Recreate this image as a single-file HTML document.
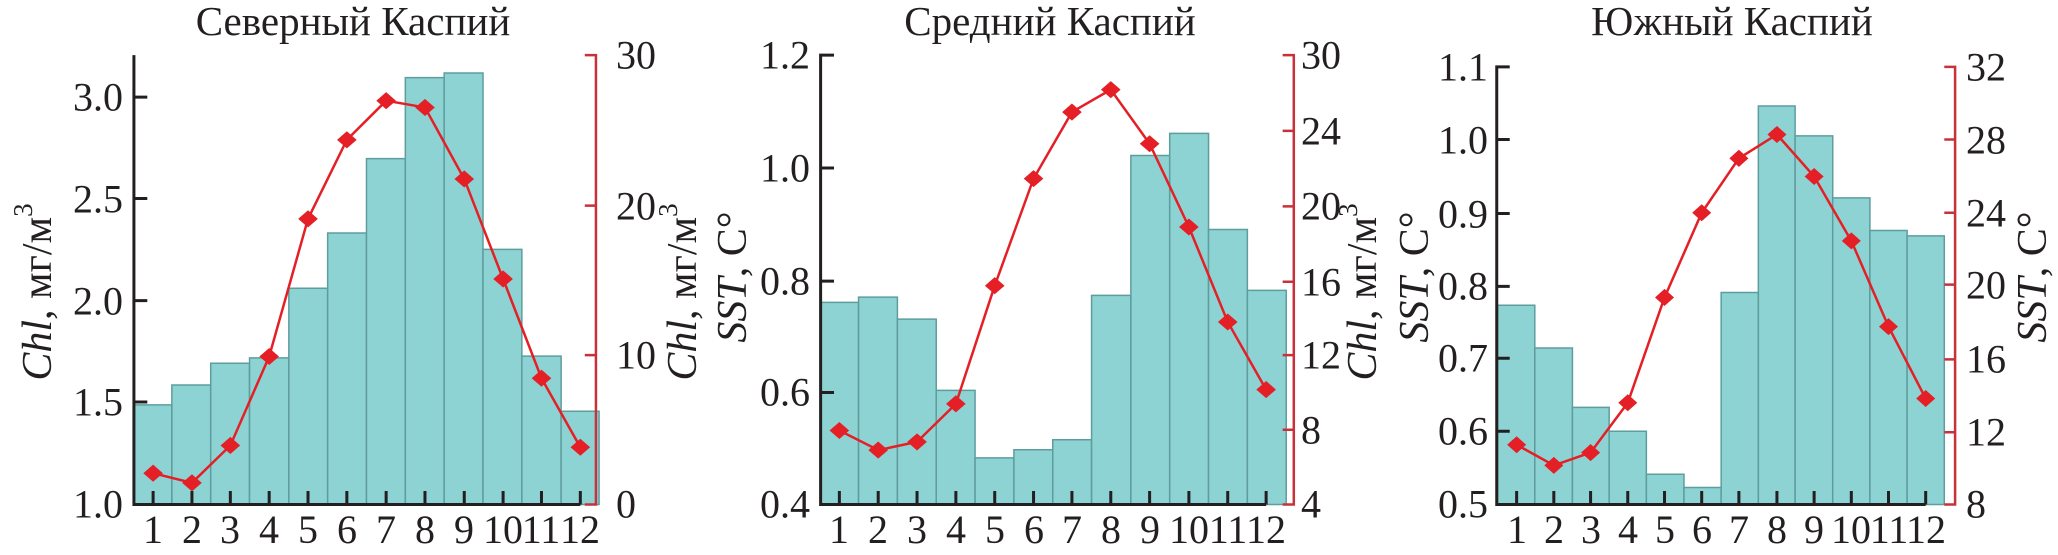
<!DOCTYPE html>
<html><head><meta charset="utf-8"><style>
html,body{margin:0;padding:0;background:#fff}
svg{display:block}
text{font-family:"Liberation Serif",serif;fill:#231f20}
</style></head><body>
<svg width="2058" height="555" viewBox="0 0 2058 555" xmlns="http://www.w3.org/2000/svg">
<defs>
<style>
.bar{fill:#8dd3d3;stroke:#5f9d9d;stroke-width:1.5}
.ax{stroke:#231f20;stroke-width:3;fill:none}
.rax{stroke:#c8313a;stroke-width:2.5;fill:none}
.ln{stroke:#e41f26;stroke-width:2.5;fill:none}
.mk{fill:#e41f26}
.t{font-size:40px}
.ttl{font-size:41px}
.lab{font-size:42px}
</style>
</defs>

<!-- Panel 1 -->
<g transform="translate(0,0) scale(0.4464,0.3558)">
<g class="bar">
<rect x="300" y="1138" width="85" height="280" vector-effect="non-scaling-stroke"/>
<rect x="385" y="1082" width="87" height="336" vector-effect="non-scaling-stroke"/>
<rect x="472" y="1021" width="87" height="397" vector-effect="non-scaling-stroke"/>
<rect x="559" y="1006" width="88" height="412" vector-effect="non-scaling-stroke"/>
<rect x="647" y="810" width="87" height="608" vector-effect="non-scaling-stroke"/>
<rect x="734" y="655" width="87" height="763" vector-effect="non-scaling-stroke"/>
<rect x="821" y="446" width="87" height="972" vector-effect="non-scaling-stroke"/>
<rect x="908" y="218" width="87" height="1200" vector-effect="non-scaling-stroke"/>
<rect x="995" y="205" width="87" height="1213" vector-effect="non-scaling-stroke"/>
<rect x="1082" y="701" width="87" height="717" vector-effect="non-scaling-stroke"/>
<rect x="1169" y="1001" width="88" height="417" vector-effect="non-scaling-stroke"/>
<rect x="1257" y="1156" width="85" height="262" vector-effect="non-scaling-stroke"/>
</g>
<path class="ax" vector-effect="non-scaling-stroke" d="M300 155V1418H1300M300 273H330M300 558H330M300 845H330M300 1130H330M343 1418V1380M430 1418V1380M516 1418V1380M603 1418V1380M690 1418V1380M777 1418V1380M865 1418V1380M952 1418V1380M1040 1418V1380M1127 1418V1380M1213 1418V1380M1300 1418V1380"/>
<path class="rax" vector-effect="non-scaling-stroke" d="M1310 155H1335V1418H1310M1335 578H1310M1335 998H1310"/>
<polyline class="ln" vector-effect="non-scaling-stroke" points="343,1330 430,1357 516,1252 603,1002 690,615 777,393 865,283 952,302 1040,503 1127,784 1213,1063 1300,1257"/>
<g class="mk">
<path d="M343 1306l22 24-22 24-22-24z"/><path d="M430 1333l22 24-22 24-22-24z"/><path d="M516 1228l22 24-22 24-22-24z"/><path d="M603 978l22 24-22 24-22-24z"/><path d="M690 591l22 24-22 24-22-24z"/><path d="M777 369l22 24-22 24-22-24z"/><path d="M865 259l22 24-22 24-22-24z"/><path d="M952 278l22 24-22 24-22-24z"/><path d="M1040 479l22 24-22 24-22-24z"/><path d="M1127 760l22 24-22 24-22-24z"/><path d="M1213 1039l22 24-22 24-22-24z"/><path d="M1300 1233l22 24-22 24-22-24z"/>
</g>
</g>

<!-- Panel 2 -->
<g transform="translate(680,0) scale(0.4464,0.3558)">
<g class="bar">
<rect x="315" y="850" width="85" height="568" vector-effect="non-scaling-stroke"/>
<rect x="400" y="835" width="87" height="583" vector-effect="non-scaling-stroke"/>
<rect x="487" y="897" width="87" height="521" vector-effect="non-scaling-stroke"/>
<rect x="574" y="1097" width="87" height="321" vector-effect="non-scaling-stroke"/>
<rect x="661" y="1287" width="87" height="131" vector-effect="non-scaling-stroke"/>
<rect x="748" y="1264" width="87" height="154" vector-effect="non-scaling-stroke"/>
<rect x="835" y="1236" width="87" height="182" vector-effect="non-scaling-stroke"/>
<rect x="922" y="830" width="88" height="588" vector-effect="non-scaling-stroke"/>
<rect x="1010" y="437" width="87" height="981" vector-effect="non-scaling-stroke"/>
<rect x="1097" y="375" width="87" height="1043" vector-effect="non-scaling-stroke"/>
<rect x="1184" y="645" width="87" height="773" vector-effect="non-scaling-stroke"/>
<rect x="1271" y="816" width="87" height="602" vector-effect="non-scaling-stroke"/>
</g>
<path class="ax" vector-effect="non-scaling-stroke" d="M345 155H315V1418H1313M315 472H345M315 790H345M315 1103H345M357 1418V1380M444 1418V1380M531 1418V1380M618 1418V1380M705 1418V1380M792 1418V1380M878 1418V1380M965 1418V1380M1052 1418V1380M1140 1418V1380M1227 1418V1380M1313 1418V1380"/>
<path class="rax" vector-effect="non-scaling-stroke" d="M1350 155H1375V1418H1350M1375 368H1350M1375 580H1350M1375 792H1350M1375 998H1350M1375 1208H1350"/>
<polyline class="ln" vector-effect="non-scaling-stroke" points="357,1210 444,1265 531,1242 618,1135 705,803 792,502 878,315 965,252 1052,404 1140,638 1227,905 1313,1095"/>
<g class="mk">
<path d="M357 1186l22 24-22 24-22-24z"/><path d="M444 1241l22 24-22 24-22-24z"/><path d="M531 1218l22 24-22 24-22-24z"/><path d="M618 1111l22 24-22 24-22-24z"/><path d="M705 779l22 24-22 24-22-24z"/><path d="M792 478l22 24-22 24-22-24z"/><path d="M878 291l22 24-22 24-22-24z"/><path d="M965 228l22 24-22 24-22-24z"/><path d="M1052 380l22 24-22 24-22-24z"/><path d="M1140 614l22 24-22 24-22-24z"/><path d="M1227 881l22 24-22 24-22-24z"/><path d="M1313 1071l22 24-22 24-22-24z"/>
</g>
</g>

<!-- Panel 3 -->
<g transform="translate(1380,0) scale(0.4324,0.3558)">
<g class="bar">
<rect x="272" y="858" width="86" height="560" vector-effect="non-scaling-stroke"/>
<rect x="358" y="978" width="87" height="440" vector-effect="non-scaling-stroke"/>
<rect x="445" y="1145" width="85" height="273" vector-effect="non-scaling-stroke"/>
<rect x="530" y="1212" width="86" height="206" vector-effect="non-scaling-stroke"/>
<rect x="616" y="1333" width="87" height="85" vector-effect="non-scaling-stroke"/>
<rect x="703" y="1370" width="86" height="48" vector-effect="non-scaling-stroke"/>
<rect x="789" y="822" width="86" height="596" vector-effect="non-scaling-stroke"/>
<rect x="875" y="298" width="85" height="1120" vector-effect="non-scaling-stroke"/>
<rect x="960" y="382" width="87" height="1036" vector-effect="non-scaling-stroke"/>
<rect x="1047" y="556" width="86" height="862" vector-effect="non-scaling-stroke"/>
<rect x="1133" y="648" width="86" height="770" vector-effect="non-scaling-stroke"/>
<rect x="1219" y="663" width="86" height="755" vector-effect="non-scaling-stroke"/>
</g>
<path class="ax" vector-effect="non-scaling-stroke" d="M300 188H270V1418H1262M270 392H300M270 600H300M270 805H300M270 1007H300M270 1212H300M316 1418V1380M402 1418V1380M487 1418V1380M573 1418V1380M658 1418V1380M744 1418V1380M830 1418V1380M918 1418V1380M1004 1418V1380M1090 1418V1380M1176 1418V1380M1262 1418V1380"/>
<path class="rax" vector-effect="non-scaling-stroke" d="M1305 188H1330V1418H1305M1330 392H1305M1330 598H1305M1330 800H1305M1330 1010H1305M1330 1215H1305"/>
<polyline class="ln" vector-effect="non-scaling-stroke" points="316,1250 402,1308 487,1272 573,1132 658,836 744,598 830,445 918,378 1004,496 1090,677 1176,918 1262,1120"/>
<g class="mk">
<path d="M316 1226l22 24-22 24-22-24z"/><path d="M402 1284l22 24-22 24-22-24z"/><path d="M487 1248l22 24-22 24-22-24z"/><path d="M573 1108l22 24-22 24-22-24z"/><path d="M658 812l22 24-22 24-22-24z"/><path d="M744 574l22 24-22 24-22-24z"/><path d="M830 421l22 24-22 24-22-24z"/><path d="M918 354l22 24-22 24-22-24z"/><path d="M1004 472l22 24-22 24-22-24z"/><path d="M1090 653l22 24-22 24-22-24z"/><path d="M1176 894l22 24-22 24-22-24z"/><path d="M1262 1096l22 24-22 24-22-24z"/>
</g>
</g>

<!-- Titles -->
<text class="ttl" x="353" y="35" text-anchor="middle">Северный Каспий</text>
<text class="ttl" x="1050" y="35" text-anchor="middle">Средний Каспий</text>
<text class="ttl" x="1732" y="35" text-anchor="middle">Южный Каспий</text>

<!-- Tick labels -->
<g class="t" text-anchor="end" dominant-baseline="central">
<text x="123" y="97">3.0</text><text x="123" y="199">2.5</text><text x="123" y="301">2.0</text><text x="123" y="402">1.5</text><text x="123" y="504">1.0</text>
<text x="810" y="55">1.2</text><text x="810" y="168">1.0</text><text x="810" y="281">0.8</text><text x="810" y="392">0.6</text><text x="810" y="504">0.4</text>
<text x="1488" y="67">1.1</text><text x="1488" y="140">1.0</text><text x="1488" y="214">0.9</text><text x="1488" y="286">0.8</text><text x="1488" y="358">0.7</text><text x="1488" y="431">0.6</text><text x="1488" y="504">0.5</text>
</g>
<g class="t" text-anchor="start" dominant-baseline="central">
<text x="616" y="55">30</text><text x="616" y="206">20</text><text x="616" y="355">10</text><text x="616" y="504">0</text>
<text x="1301" y="55">30</text><text x="1301" y="131">24</text><text x="1301" y="206">20</text><text x="1301" y="282">16</text><text x="1301" y="355">12</text><text x="1301" y="430">8</text><text x="1301" y="504">4</text>
<text x="1966" y="67">32</text><text x="1966" y="140">28</text><text x="1966" y="213">24</text><text x="1966" y="285">20</text><text x="1966" y="359">16</text><text x="1966" y="432">12</text><text x="1966" y="504">8</text>
</g>
<g class="t" text-anchor="middle">
<text x="153" y="543">1</text><text x="192" y="543">2</text><text x="230" y="543">3</text><text x="269" y="543">4</text><text x="308" y="543">5</text><text x="347" y="543">6</text><text x="386" y="543">7</text><text x="425" y="543">8</text><text x="464" y="543">9</text><text x="503" y="543">10</text><text x="541" y="543">11</text><text x="580" y="543">12</text>
<text x="839" y="543">1</text><text x="878" y="543">2</text><text x="917" y="543">3</text><text x="956" y="543">4</text><text x="995" y="543">5</text><text x="1034" y="543">6</text><text x="1072" y="543">7</text><text x="1111" y="543">8</text><text x="1150" y="543">9</text><text x="1189" y="543">10</text><text x="1228" y="543">11</text><text x="1266" y="543">12</text>
<text x="1517" y="543">1</text><text x="1554" y="543">2</text><text x="1591" y="543">3</text><text x="1628" y="543">4</text><text x="1665" y="543">5</text><text x="1702" y="543">6</text><text x="1739" y="543">7</text><text x="1777" y="543">8</text><text x="1814" y="543">9</text><text x="1851" y="543">10</text><text x="1889" y="543">11</text><text x="1926" y="543">12</text>
</g>

<!-- Axis labels -->
<g class="lab" text-anchor="middle" dominant-baseline="central">
<text transform="translate(38,292) rotate(-90)"><tspan font-style="italic">Chl</tspan>, мг/м<tspan font-size="27" dy="-15">3</tspan></text>
<text transform="translate(683,292) rotate(-90)"><tspan font-style="italic">Chl</tspan>, мг/м<tspan font-size="27" dy="-15">3</tspan></text>
<text transform="translate(733,277) rotate(-90)"><tspan font-style="italic">SST</tspan>, C°</text>
<text transform="translate(1363,292) rotate(-90)"><tspan font-style="italic">Chl</tspan>, мг/м<tspan font-size="27" dy="-15">3</tspan></text>
<text transform="translate(1415,277) rotate(-90)"><tspan font-style="italic">SST</tspan>, C°</text>
<text transform="translate(2033,277) rotate(-90)"><tspan font-style="italic">SST</tspan>, C°</text>
</g>
</svg>
</body></html>
